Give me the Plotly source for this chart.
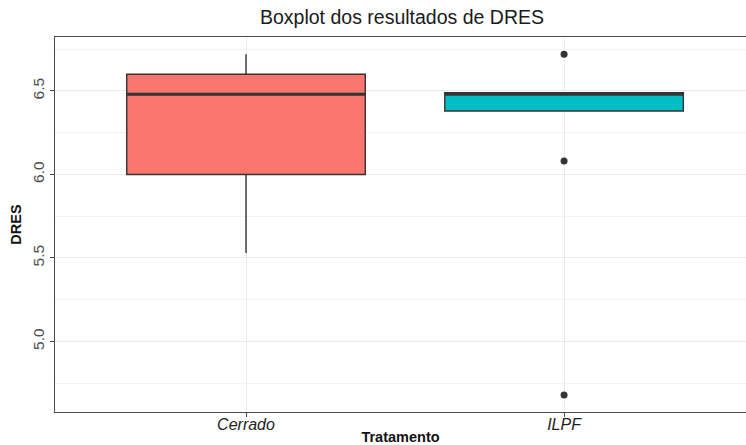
import plotly.graph_objects as go

# Summary statistics per treatment (DRES)
tratamentos = ["Cerrado", "ILPF"]
q1 = [6.00, 6.38]
mediana = [6.48, 6.48]
q3 = [6.60, 6.49]
limite_inferior = [5.53, 6.38]
limite_superior = [6.72, 6.49]

# Points beyond the whiskers
outlier_trat = ["ILPF", "ILPF", "ILPF"]
outlier_val = [6.72, 6.08, 4.68]

cores = ["#F8766D", "#00BFC4"]
largura = 0.75

fig = go.Figure()

for i, t in enumerate(tratamentos):
    fig.add_trace(go.Box(
        x=[t], q1=[q1[i]], median=[mediana[i]], q3=[q3[i]],
        lowerfence=[limite_inferior[i]], upperfence=[limite_superior[i]],
        fillcolor=cores[i], line=dict(color="#333333", width=1.4),
        width=largura, whiskerwidth=0, boxpoints=False,
        showlegend=False, hoverinfo="skip",
    ))
    # thicker median bar, as in ggplot's boxplot
    fig.add_trace(go.Scatter(
        x=[i - largura / 2, i + largura / 2], y=[mediana[i], mediana[i]],
        xaxis="x2", mode="lines", line=dict(color="#333333", width=3),
        showlegend=False, hoverinfo="skip",
    ))

fig.add_trace(go.Scatter(
    x=outlier_trat, y=outlier_val, mode="markers",
    marker=dict(color="#333333", size=7),
    showlegend=False, hoverinfo="skip",
))

x_range = [-0.6006, 1.572]

fig.update_layout(
    width=746, height=445,
    margin=dict(l=55, r=0, t=37, b=33, autoexpand=False),
    paper_bgcolor="white", plot_bgcolor="white",
    font=dict(family="Liberation Sans, Arial, sans-serif", color="#1a1a1a"),
    title=dict(text="Boxplot dos resultados de DRES", x=(402 - 55) / 691,
               xanchor="center", xref="paper", y=1 - 17 / 445, yanchor="middle",
               font=dict(size=19.5, color="#1a1a1a")),
    xaxis=dict(
        type="category", categoryorder="array", categoryarray=tratamentos,
        range=x_range, showgrid=True, gridcolor="#ebebeb", gridwidth=1,
        showline=True, linecolor="#4a4a4a", linewidth=1.4, mirror=True,
        ticks="outside", ticklen=4, tickcolor="#4a4a4a", tickwidth=1,
        ticklabelstandoff=-6,
        tickfont=dict(size=16, color="#222222", family="Liberation Sans, Arial, sans-serif",
                      style="italic"),
        title=dict(text="<b>Tratamento</b>", font=dict(size=14.5, color="#111111"),
                   standoff=5),
        zeroline=False, automargin=False,
    ),
    xaxis2=dict(overlaying="x", range=x_range, visible=False),
    yaxis=dict(
        range=[4.578, 6.823], tickvals=[5.0, 5.5, 6.0, 6.5],
        ticktext=["5.0", "5.5", "6.0", "6.5"], tickangle=-90,
        showgrid=True, gridcolor="#ebebeb", gridwidth=1,
        minor=dict(showgrid=True, tick0=4.75, dtick=0.5, gridcolor="#f2f2f2",
                   gridwidth=0.7),
        showline=True, linecolor="#4a4a4a", linewidth=1.4, mirror=False,
        ticks="outside", ticklen=4, tickcolor="#4a4a4a", tickwidth=1,
        tickfont=dict(size=15.5, color="#4d4d4d"),
        title=dict(text="<b>DRES</b>", font=dict(size=14.5, color="#111111"),
                   standoff=4),
        zeroline=False, automargin=False,
    ),
)

fig.write_html("out.html")
